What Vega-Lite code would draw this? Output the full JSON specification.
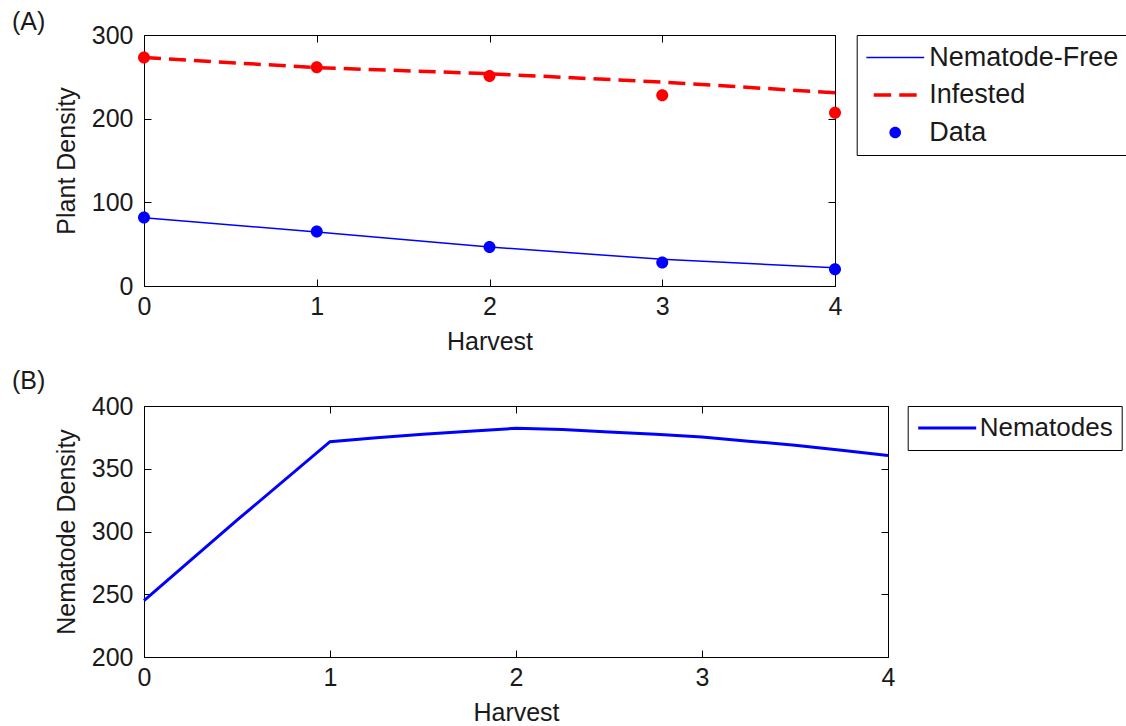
{
  "$schema": "https://vega.github.io/schema/vega-lite/v6.json",
  "background": "white",
  "padding": {"left": 11, "top": 9, "right": 0, "bottom": 0},
  "config": {
    "font": "Liberation Sans",
    "view": {"stroke": "black", "strokeWidth": 1},
    "axis": {
      "domain": false, "grid": false, "ticks": true, "tickSize": -7, "tickColor": "black", "tickWidth": 1,
      "labelFontSize": 25, "labelColor": "#1a1a1a", "labelFont": "Liberation Sans", "labelFlush": false,
      "titleFontSize": 25, "titleFontWeight": "normal", "titleColor": "#1a1a1a", "titleFont": "Liberation Sans"
    },
    "axisX": {"labelPadding": 15, "titlePadding": 10},
    "axisY": {"labelPadding": 18, "titlePadding": 12},
    "title": {"anchor": "start", "frame": "group", "fontSize": 25, "fontWeight": "normal", "color": "#1a1a1a", "font": "Liberation Sans"},
    "concat": {"spacing": 13}
  },
  "resolve": {
    "scale": {"color": "independent", "shape": "independent"},
    "legend": {"color": "independent", "shape": "independent"}
  },
  "datasets": {
    "aLines": [
      {"harvest": 0, "density": 81.6, "series": "Nematode-Free"},
      {"harvest": 1, "density": 64.5, "series": "Nematode-Free"},
      {"harvest": 2, "density": 46.6, "series": "Nematode-Free"},
      {"harvest": 3, "density": 31.9, "series": "Nematode-Free"},
      {"harvest": 4, "density": 21.9, "series": "Nematode-Free"},
      {"harvest": 0, "density": 273, "series": "Infested"},
      {"harvest": 1, "density": 261, "series": "Infested"},
      {"harvest": 2, "density": 253.7, "series": "Infested"},
      {"harvest": 3, "density": 243.7, "series": "Infested"},
      {"harvest": 4, "density": 231, "series": "Infested"}
    ],
    "aData": [
      {"harvest": 0, "density": 82, "group": "Nematode-Free", "series": "Data"},
      {"harvest": 1, "density": 65, "group": "Nematode-Free", "series": "Data"},
      {"harvest": 2, "density": 46.6, "group": "Nematode-Free", "series": "Data"},
      {"harvest": 3, "density": 28, "group": "Nematode-Free", "series": "Data"},
      {"harvest": 4, "density": 20, "group": "Nematode-Free", "series": "Data"},
      {"harvest": 0, "density": 273, "group": "Infested", "series": "Data"},
      {"harvest": 1, "density": 261.6, "group": "Infested", "series": "Data"},
      {"harvest": 2, "density": 251, "group": "Infested", "series": "Data"},
      {"harvest": 3, "density": 228, "group": "Infested", "series": "Data"},
      {"harvest": 4, "density": 207, "group": "Infested", "series": "Data"}
    ],
    "bLine": [
      {"harvest": 0, "density": 245, "series": "Nematodes"},
      {"harvest": 0.5, "density": 309, "series": "Nematodes"},
      {"harvest": 1, "density": 371.6, "series": "Nematodes"},
      {"harvest": 1.25, "density": 374.7, "series": "Nematodes"},
      {"harvest": 1.5, "density": 377.4, "series": "Nematodes"},
      {"harvest": 1.75, "density": 379.8, "series": "Nematodes"},
      {"harvest": 2, "density": 382.2, "series": "Nematodes"},
      {"harvest": 2.25, "density": 381.2, "series": "Nematodes"},
      {"harvest": 2.5, "density": 379.2, "series": "Nematodes"},
      {"harvest": 2.75, "density": 377.4, "series": "Nematodes"},
      {"harvest": 3, "density": 375.3, "series": "Nematodes"},
      {"harvest": 3.25, "density": 372, "series": "Nematodes"},
      {"harvest": 3.5, "density": 368.7, "series": "Nematodes"},
      {"harvest": 3.75, "density": 364.7, "series": "Nematodes"},
      {"harvest": 4, "density": 360.5, "series": "Nematodes"}
    ]
  },
  "vconcat": [
    {
      "width": 691,
      "height": 251,
      "title": {"text": "(A)", "dx": -132, "offset": -12},
      "resolve": {"axis": {"x": "independent", "y": "independent"}},
      "layer": [
        {
          "data": {"name": "aLines"},
          "transform": [{"filter": "datum.series === 'Infested'"}],
          "mark": {"type": "line", "strokeDash": [17, 8], "strokeWidth": 3.5, "color": "#ff0000"},
          "encoding": {
            "x": {"field": "harvest", "type": "quantitative", "scale": {"domain": [0, 4], "nice": false},
                  "axis": {"orient": "bottom", "title": "Harvest", "values": [0, 1, 2, 3, 4], "format": "d"}},
            "y": {"field": "density", "type": "quantitative", "scale": {"domain": [0, 300], "nice": false, "zero": false},
                  "axis": {"orient": "left", "title": "Plant Density", "values": [0, 100, 200, 300], "format": "d"}}
          }
        },
        {
          "data": {"name": "aLines"},
          "transform": [{"filter": "datum.series === 'Nematode-Free'"}],
          "mark": {"type": "line", "strokeWidth": 1.5, "color": "#0000ff"},
          "encoding": {
            "x": {"field": "harvest", "type": "quantitative",
                  "axis": {"orient": "top", "labels": false, "title": null, "values": [0, 1, 2, 3, 4]}},
            "y": {"field": "density", "type": "quantitative",
                  "axis": {"orient": "right", "labels": false, "title": null, "values": [0, 100, 200, 300]}}
          }
        },
        {
          "data": {"name": "aData"},
          "transform": [{"filter": "datum.group === 'Infested'"}],
          "mark": {"type": "point", "filled": true, "size": 3600, "opacity": 1, "strokeWidth": 0,
                   "color": "#ff0000", "shape": "M-0.2,0A0.2,0.2 0 1,0 0.2,0A0.2,0.2 0 1,0 -0.2,0Z"},
          "encoding": {
            "x": {"field": "harvest", "type": "quantitative", "axis": null},
            "y": {"field": "density", "type": "quantitative", "axis": null}
          }
        },
        {
          "data": {"name": "aData"},
          "transform": [{"filter": "datum.group === 'Nematode-Free'"}],
          "mark": {"type": "point", "filled": true, "size": 3600, "opacity": 1, "strokeWidth": 0},
          "encoding": {
            "x": {"field": "harvest", "type": "quantitative", "axis": null},
            "y": {"field": "density", "type": "quantitative", "axis": null},
            "color": {
              "field": "series", "type": "nominal",
              "scale": {"domain": ["Nematode-Free", "Infested", "Data"], "range": ["#0000ff", "#ff0000", "#0000ff"]},
              "legend": {
                "orient": "none", "legendX": 712.7, "legendY": 0, "title": null,
                "strokeColor": "black", "fillColor": "white", "padding": 9.5,
                "labelFontSize": 27, "labelFont": "Liberation Sans", "labelColor": "#1a1a1a", "labelOffset": 5, "labelLimit": 400,
                "symbolSize": 3364, "symbolStrokeWidth": 0, "symbolOpacity": 1, "clipHeight": 26, "rowPadding": 10.5
              }
            },
            "shape": {
              "field": "series", "type": "nominal",
              "scale": {
                "domain": ["Nematode-Free", "Infested", "Data"],
                "range": [
                  "M-1,-0.028H1V0.028H-1Z",
                  "M-0.74,-0.06H-0.14V0.06H-0.74Z M0.14,-0.06H0.74V0.06H0.14Z",
                  "M-0.2,0A0.2,0.2 0 1,0 0.2,0A0.2,0.2 0 1,0 -0.2,0Z"
                ]
              },
              "legend": {
                "orient": "none", "legendX": 712.7, "legendY": 0, "title": null,
                "strokeColor": "black", "fillColor": "white", "padding": 9.5,
                "labelFontSize": 27, "labelFont": "Liberation Sans", "labelColor": "#1a1a1a", "labelOffset": 5, "labelLimit": 400,
                "symbolSize": 3364, "symbolStrokeWidth": 0, "symbolOpacity": 1, "clipHeight": 26, "rowPadding": 10.5
              }
            }
          }
        }
      ]
    },
    {
      "width": 744,
      "height": 251,
      "title": {"text": "(B)", "dx": -132, "offset": 0},
      "data": {"name": "bLine"},
      "resolve": {"axis": {"x": "independent", "y": "independent"}},
      "layer": [
        {
          "mark": {"type": "line", "strokeWidth": 3},
          "encoding": {
            "x": {"field": "harvest", "type": "quantitative", "scale": {"domain": [0, 4], "nice": false},
                  "axis": {"orient": "bottom", "title": "Harvest", "values": [0, 1, 2, 3, 4], "format": "d"}},
            "y": {"field": "density", "type": "quantitative", "scale": {"domain": [200, 400], "nice": false, "zero": false},
                  "axis": {"orient": "left", "title": "Nematode Density", "values": [200, 250, 300, 350, 400], "format": "d"}},
            "color": {
              "field": "series", "type": "nominal",
              "scale": {"domain": ["Nematodes"], "range": ["#0000ff"]},
              "legend": {
                "orient": "none", "legendX": 763.7, "legendY": 0, "title": null,
                "strokeColor": "black", "fillColor": "white", "padding": 9,
                "labelFontSize": 26, "labelFont": "Liberation Sans", "labelColor": "#1a1a1a", "labelOffset": 2, "labelLimit": 400,
                "symbolSize": 3364, "symbolType": "stroke", "symbolStrokeWidth": 3, "clipHeight": 26
              }
            }
          }
        },
        {
          "mark": {"type": "point", "opacity": 0},
          "encoding": {
            "x": {"field": "harvest", "type": "quantitative",
                  "axis": {"orient": "top", "labels": false, "title": null, "values": [0, 1, 2, 3, 4]}},
            "y": {"field": "density", "type": "quantitative",
                  "axis": {"orient": "right", "labels": false, "title": null, "values": [200, 250, 300, 350, 400]}}
          }
        }
      ]
    }
  ]
}
